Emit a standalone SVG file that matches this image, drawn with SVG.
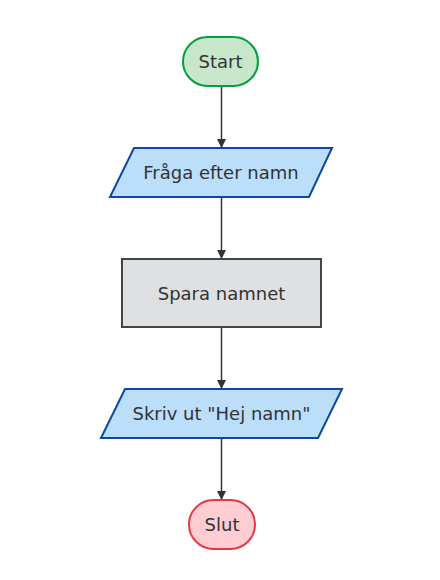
<svg xmlns="http://www.w3.org/2000/svg" width="440" height="580" viewBox="0 0 440 580">
<defs>
<marker id="arr" viewBox="0 0 10 10" refX="10" refY="5" markerWidth="9" markerHeight="10" markerUnits="userSpaceOnUse" orient="auto">
<path d="M0,0 L10,5 L0,10 z" fill="#333"/>
</marker>
<style>
text{font-family:"DejaVu Sans",Verdana,sans-serif;font-size:18px;fill:#333;text-anchor:middle;dominant-baseline:central}
.edge{stroke:#333;stroke-width:1.5;fill:none}
.term-s{fill:#c8e6c9;stroke:#00a041;stroke-width:2}
.io{fill:#bbdefb;stroke:#0d47a1;stroke-width:2}
.proc{fill:#dfe0e2;stroke:#424548;stroke-width:2}
.term-e{fill:#ffcdd2;stroke:#e53945;stroke-width:2}
</style>
</defs>
<rect width="440" height="580" fill="#fff"/>
<g id="connectors">
<line class="edge" x1="221.5" y1="86" x2="221.5" y2="148" marker-end="url(#arr)"/>
<line class="edge" x1="221.5" y1="197" x2="221.5" y2="259" marker-end="url(#arr)"/>
<line class="edge" x1="221.5" y1="327" x2="221.5" y2="389" marker-end="url(#arr)"/>
<line class="edge" x1="221.5" y1="438" x2="221.5" y2="500" marker-end="url(#arr)"/>
</g>
<g id="start">
<rect class="term-s" x="183" y="37" width="75" height="49" rx="24.5"/>
<text x="220.5" y="61.5">Start</text>
</g>
<g id="fraga">
<polygon class="io" points="134,148 332,148 309,197 110,197"/>
<text x="221" y="172.5">Fråga efter namn</text>
</g>
<g id="spara">
<rect class="proc" x="122" y="259" width="199" height="68"/>
<text x="221.5" y="293">Spara namnet</text>
</g>
<g id="skriv">
<polygon class="io" points="125,389 342,389 318,438 101,438"/>
<text x="221.5" y="413.5">Skriv ut "Hej namn"</text>
</g>
<g id="slut">
<rect class="term-e" x="189" y="500" width="66" height="49" rx="24.5"/>
<text x="222" y="524.5">Slut</text>
</g>
</svg>
